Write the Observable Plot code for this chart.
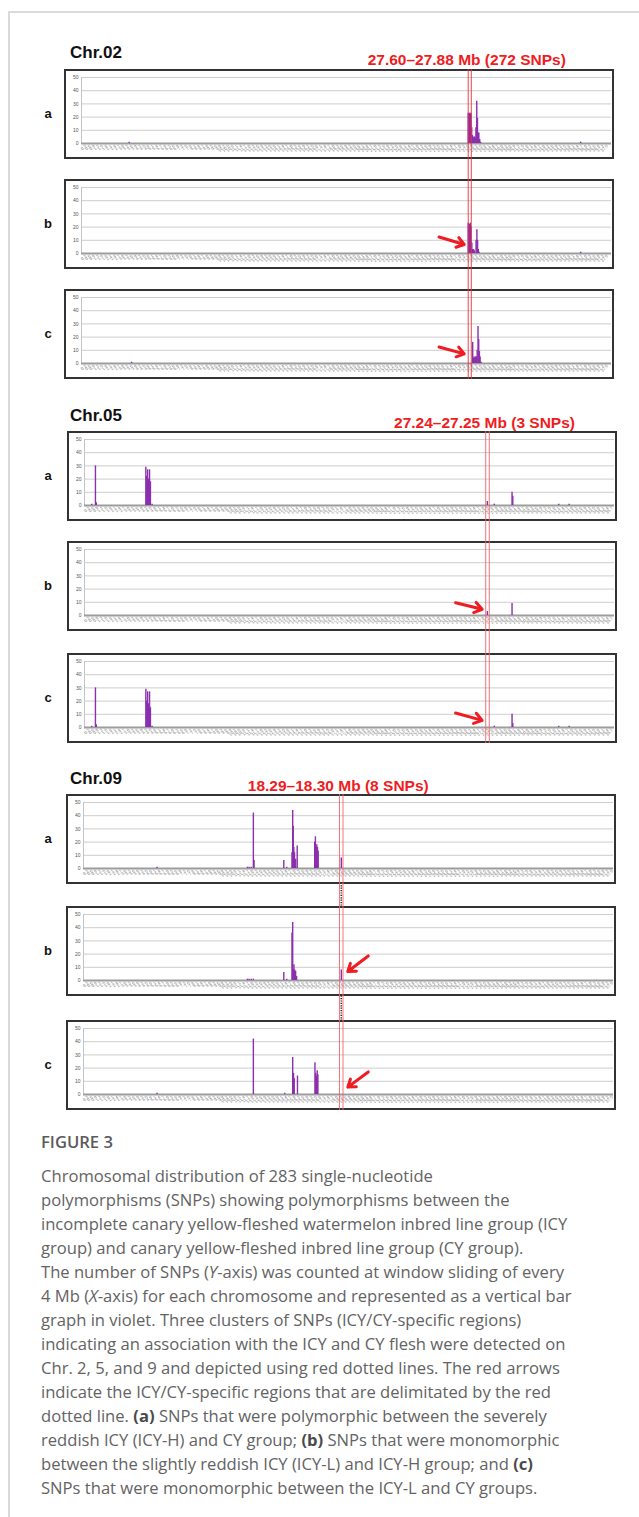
<!DOCTYPE html>
<html>
<head>
<meta charset="utf-8">
<script src="https://cdn.jsdelivr.net/npm/d3@7"></script>
<script src="https://cdn.jsdelivr.net/npm/@observablehq/plot@0.6"></script>
<style>
  html, body { margin: 0; padding: 0; background: #fff; }
  #page { position: relative; width: 639px; height: 1517px; overflow: hidden; font-family: "Liberation Sans", Arial, sans-serif; }
  .abs { position: absolute; }
  .box { position: absolute; box-sizing: border-box; border: 2px solid #333; background: #fff; z-index: 1; }
  .box svg { display: block; }
  .overlay { position: absolute; pointer-events: none; }
  .chrlab { position: absolute; font-weight: bold; font-size: 17px; color: #111; line-height: 20px; }
  .letter { position: absolute; font-weight: bold; font-size: 13px; color: #111; width: 14px; text-align: center; line-height: 16px; }
  #caption { position: absolute; left: 41px; top: 1130px; font-family: "Open Sans", "Noto Sans", sans-serif; font-size: 16.6px; line-height: 24px; color: #636363; white-space: nowrap; }
  #caption .fig { font-weight: 600; color: #5a5a5a; margin-bottom: 10px; }
  #caption b { font-weight: 700; color: #4a4a4a; }
</style>
</head>
<body>
<div id="page"></div>
<script>
// ---------------- data ----------------
const chromosomes = ["Chr.02", "Chr.05", "Chr.09"];
const chrLengthMb = [37.8, 35.85, 37.6];
const regionLabels = ["27.60–27.88 Mb (272 SNPs)", "27.24–27.25 Mb (3 SNPs)", "18.29–18.30 Mb (8 SNPs)"];
const regionLinesMb = [[27.58, 27.80], [27.14, 27.38], [18.16, 18.41]];
const panelLetters = ["a", "b", "c"];
const yTicks = [0, 10, 20, 30, 40, 50];
const yGridTicks = [10, 20, 30, 40, 50];
const xTickStepMb = 0.3;

// [position (Mb), SNP count]
const chr02a = [[3.4,1],[27.58,23],[27.63,21],[27.68,23],[27.73,22],[27.78,23],[27.83,12],[27.88,6],[27.93,5],[27.98,4],[28.03,5],[28.08,4],[28.13,12],[28.19,32],[28.24,19],[28.29,8],[28.34,8],[28.4,3],[28.46,1],[35.6,1]];
const chr02b = [[27.58,23],[27.63,21],[27.68,22],[27.73,23],[27.78,20],[27.84,8],[27.9,3],[27.96,3],[28.02,2],[28.14,10],[28.2,18],[28.25,10],[28.3,3],[28.36,1],[35.6,1]];
const chr02c = [[3.57,1],[27.9,16],[27.95,4],[28.0,5],[28.05,4],[28.1,5],[28.16,5],[28.22,10],[28.28,28],[28.33,18],[28.38,9],[28.43,5],[28.5,1]];

const chr05a = [[0.49,1],[0.74,30],[0.8,2],[4.15,29],[4.2,22],[4.27,27],[4.33,20],[4.4,27],[4.46,18],[4.57,1],[27.25,3],[27.72,1],[28.92,10],[28.97,7],[32.08,1],[32.78,1]];
const chr05b = [[27.25,3],[28.92,9]];
const chr05c = [[0.49,1],[0.74,30],[0.8,2],[4.15,29],[4.2,20],[4.27,27],[4.33,18],[4.4,27],[4.46,15],[4.57,1],[27.72,1],[28.92,10],[28.97,3],[32.08,1],[32.78,1]];

const chr09a = [[5.22,1],[11.63,1],[11.75,1],[11.9,1],[12.05,42],[12.1,6],[14.21,6],[14.42,1],[14.79,12],[14.84,44],[14.88,32],[14.92,16],[14.97,12],[15.05,7],[15.16,17],[16.4,20],[16.45,24],[16.5,16],[16.55,18],[16.6,16],[16.65,13],[18.29,8]];
const chr09b = [[11.63,1],[11.75,1],[11.9,1],[12.05,1],[14.21,6],[14.42,1],[14.79,36],[14.84,44],[14.88,8],[14.93,12],[14.98,8],[15.05,7],[15.12,3],[18.29,8]];
const chr09c = [[5.22,1],[12.05,42],[14.28,1],[14.84,28],[14.9,16],[14.95,12],[15.18,14],[16.42,24],[16.47,16],[16.53,14],[16.58,18],[16.63,15]];

const panelData = [[chr02a, chr02b, chr02c], [chr05a, chr05b, chr05c], [chr09a, chr09b, chr09c]];

// red arrows: panel index, start (Mb, count) -> end (Mb, count)
const arrowsChr02 = [{p:1, x1:25.5, y1:12.5, x2:27.3, y2:6.8}, {p:2, x1:25.5, y1:12.5, x2:27.3, y2:7.3}];
const arrowsChr05 = [{p:1, x1:25.1, y1:9.7, x2:26.9, y2:4.7}, {p:2, x1:25.1, y1:11, x2:26.9, y2:5.4}];
const arrowsChr09 = [{p:1, x1:20.2, y1:18.6, x2:18.75, y2:6.8}, {p:2, x1:20.2, y1:17.1, x2:18.75, y2:5.6}];
const arrowData = [arrowsChr02, arrowsChr05, arrowsChr09];

// ---------------- style / layout ----------------
const barColor = "#8b2fae";
const redColor = "#f01c22";
const layout = [
  {left: 64, titleY: 53, tops: [69, 179, 289], line: {stroke: "#e8323a", strokeWidth: 1, strokeOpacity: 0.9}},
  {left: 67, titleY: 416, tops: [431, 541, 653], line: {stroke: "#f0666c", strokeWidth: 1, strokeOpacity: 0.9}},
  {left: 66, titleY: 779, tops: [794, 906, 1020], line: {stroke: "#f0666c", strokeWidth: 1, strokeOpacity: 0.9}}
];
const BOX_W = 550, BOX_H = 90, INNER_W = BOX_W - 4, INNER_H = BOX_H - 4;
const M = {left: 15, right: 1, top: 6, bottom: 14};

const page = document.getElementById("page");
function el(tag, cls, css, html) {
  const e = document.createElement(tag);
  if (cls) e.className = cls;
  Object.assign(e.style, css || {});
  if (html != null) e.innerHTML = html;
  page.appendChild(e);
  return e;
}

// page frame lines
el("div", "abs", {left: "8px", top: "11px", width: "631px", height: "2px", background: "#dadada"});
el("div", "abs", {left: "8px", top: "11px", width: "2px", height: "1506px", background: "#dadada"});

function panelPlot(data, L, arrows) {
  const xTicks = d3.range(xTickStepMb, L, xTickStepMb);
  const rows = data.map(([pos, count]) => ({pos, count}));
  return Plot.plot({
    width: INNER_W, height: INNER_H,
    marginLeft: M.left, marginRight: M.right, marginTop: M.top, marginBottom: M.bottom,
    x: {domain: [0, L], axis: null},
    y: {domain: [0, 50], axis: null},
    style: {background: "transparent", overflow: "visible", fontFamily: "Liberation Sans, Arial, sans-serif"},
    marks: [
      Plot.gridY(yGridTicks, {stroke: "#cdcdcd", strokeOpacity: 1}),
      Plot.frame({anchor: "left", stroke: "#c4c4c4"}),
      Plot.axisY(yTicks, {anchor: "left", tickSize: 0, tickPadding: 3, fontSize: 5, fill: "#555"}),
      Plot.axisX(xTicks, {anchor: "bottom", tickSize: 0, tickPadding: 2, tickRotate: -45, fontSize: 4.2, fill: "#7c7c7c", tickFormat: d => d.toFixed(1)}),
      Plot.ruleY([0], {stroke: "#9c9c9c", strokeWidth: 2}),
      Plot.ruleX(rows, {x: "pos", y1: 0, y2: "count", stroke: barColor, strokeWidth: 1.4}),
      Plot.arrow(arrows, {x1: "x1", y1: "y1", x2: "x2", y2: "y2", stroke: redColor, strokeWidth: 3, headLength: 6, headAngle: 70})
    ]
  });
}

chromosomes.forEach((chr, ci) => {
  const lay = layout[ci];
  const L = chrLengthMb[ci];
  const topA = lay.tops[0], botC = lay.tops[2] + BOX_H;
  const TITLE_M = 30;

  el("div", "chrlab", {left: "70px", top: (lay.titleY - 10) + "px"}, chr);

  // dark dotted connector behind the panels (Chr.09)
  if (ci === 2) {
    const under = Plot.plot({
      width: INNER_W, height: botC - topA,
      marginLeft: M.left, marginRight: M.right, marginTop: 0, marginBottom: 0,
      x: {domain: [0, L], axis: null},
      style: {background: "transparent", overflow: "visible"},
      marks: [Plot.ruleX([d3.mean(regionLinesMb[ci])], {stroke: "#3a2424", strokeWidth: 1.5, strokeDasharray: "1.2,1.2"})]
    });
    const u = el("div", "overlay", {left: (lay.left + 2) + "px", top: topA + "px", zIndex: 0});
    u.appendChild(under);
  }

  lay.tops.forEach((t, pi) => {
    const box = el("div", "box", {left: lay.left + "px", top: t + "px", width: BOX_W + "px", height: BOX_H + "px"});
    const arrows = arrowData[ci].filter(a => a.p === pi);
    box.appendChild(panelPlot(panelData[ci][pi], L, arrows));
    el("div", "letter", {left: "41px", top: (t + BOX_H / 2 - 8) + "px"}, panelLetters[pi]);
  });

  const ov = Plot.plot({
    width: INNER_W, height: botC - topA + TITLE_M,
    marginLeft: M.left, marginRight: M.right, marginTop: TITLE_M, marginBottom: 0,
    x: {domain: [0, L], axis: null},
    style: {background: "transparent", overflow: "visible"},
    marks: [
      Plot.ruleX(regionLinesMb[ci], lay.line),
      Plot.text([regionLabels[ci]], {x: d3.mean(regionLinesMb[ci]), frameAnchor: "top", dy: lay.titleY - topA, dx: -3,
        text: d => d, fill: redColor, fontSize: 15.5, fontWeight: "bold", fontFamily: "Liberation Sans, Arial, sans-serif"})
    ]
  });
  const o = el("div", "overlay", {left: (lay.left + 2) + "px", top: (topA - TITLE_M) + "px", zIndex: 2});
  o.appendChild(ov);
});

// caption
const cap = document.createElement("div");
cap.id = "caption";
cap.innerHTML = `<div class="fig">FIGURE 3</div>
Chromosomal distribution of 283 single-nucleotide<br>
polymorphisms (SNPs) showing polymorphisms between the<br>
incomplete canary yellow-fleshed watermelon inbred line group (ICY<br>
group) and canary yellow-fleshed inbred line group (CY group).<br>
The number of SNPs (<i>Y</i>-axis) was counted at window sliding of every<br>
4 Mb (<i>X</i>-axis) for each chromosome and represented as a vertical bar<br>
graph in violet. Three clusters of SNPs (ICY/CY-specific regions)<br>
indicating an association with the ICY and CY flesh were detected on<br>
Chr. 2, 5, and 9 and depicted using red dotted lines. The red arrows<br>
indicate the ICY/CY-specific regions that are delimitated by the red<br>
dotted line. <b>(a)</b> SNPs that were polymorphic between the severely<br>
reddish ICY (ICY-H) and CY group; <b>(b)</b> SNPs that were monomorphic<br>
between the slightly reddish ICY (ICY-L) and ICY-H group; and <b>(c)</b><br>
SNPs that were monomorphic between the ICY-L and CY groups.`;
page.appendChild(cap);
</script>
</body>
</html>
